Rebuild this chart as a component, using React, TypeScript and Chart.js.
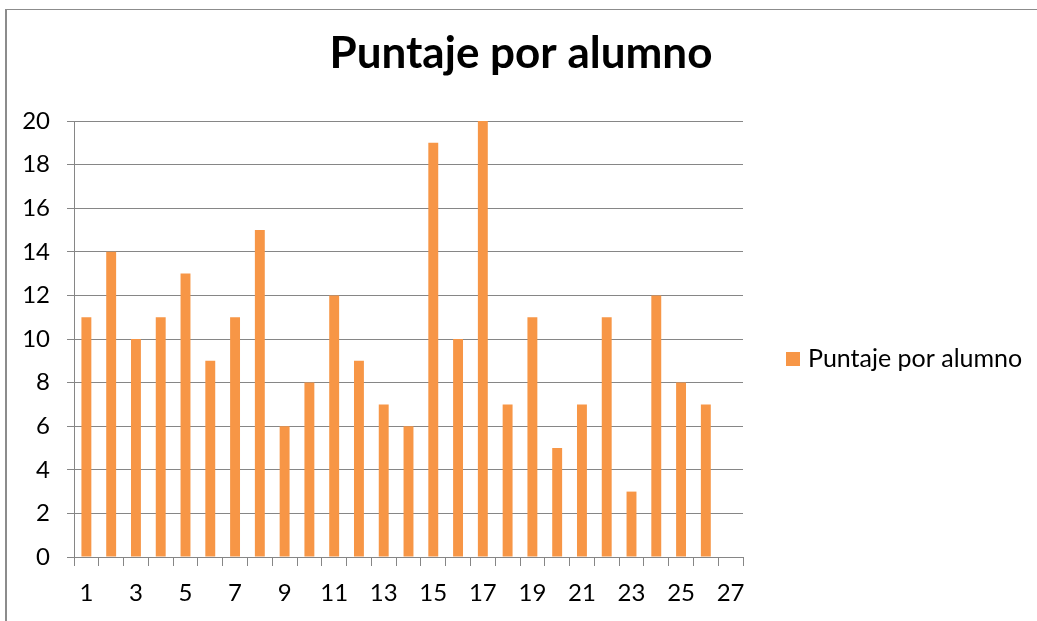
import React, { useEffect, useRef } from "react";
import { Chart, registerables } from "chart.js";

Chart.register(...registerables);

const TITLE = "Puntaje por alumno";
const SERIES_LABEL = "Puntaje por alumno";
const CATEGORIES = Array.from({ length: 27 }, (_, i) => String(i + 1));
const VALUES: (number | null)[] = [
  11, 14, 10, 11, 13, 9, 11, 15, 6, 8, 12, 9, 7, 6, 19, 10, 20, 7, 11, 5, 7, 11, 3, 12, 8, 7, null,
];
const Y_MIN = 0;
const Y_MAX = 20;
const Y_STEP = 2;

const BAR_COLOR = "#F79646";
const GRID_COLOR = "#868686";
const FONT = "Lato, 'Open Sans', sans-serif";

const overlayPlugin = {
  id: "overlay",
  afterDraw(chart: any) {
    const ctx = chart.ctx;
    ctx.save();
    // Title
    ctx.fillStyle = "#000";
    ctx.font = `bold 44px ${FONT}`;
    ctx.textAlign = "center";
    ctx.textBaseline = "alphabetic";
    ctx.fillText(TITLE, 521, 68);
    // Legend
    const ds = chart.data.datasets[0];
    ctx.fillStyle = ds.backgroundColor;
    ctx.fillRect(786, 352, 14, 14);
    ctx.fillStyle = "#000";
    ctx.font = `25px ${FONT}`;
    ctx.textAlign = "left";
    ctx.textBaseline = "middle";
    ctx.fillText(ds.label, 808, 359);
    ctx.restore();
  },
};

export default function App() {
  const ref = useRef<HTMLCanvasElement>(null);
  useEffect(() => {
    if (!ref.current) return;
    const chart = new Chart(ref.current, {
      type: "bar",
      data: {
        labels: CATEGORIES,
        datasets: [
          {
            label: SERIES_LABEL,
            data: VALUES,
            backgroundColor: BAR_COLOR,
            borderWidth: 0,
            barPercentage: 0.4,
            categoryPercentage: 1.0,
          },
        ],
      },
      options: {
        animation: false,
        responsive: false,
        maintainAspectRatio: false,
        layout: { padding: { top: 121, right: 294, bottom: 0, left: 0 } },
        plugins: {
          legend: { display: false },
          title: { display: false },
          tooltip: { enabled: false },
        },
        scales: {
          x: {
            type: "category",
            offset: true,
            grid: {
              offset: true,
              drawOnChartArea: false,
              drawTicks: true,
              tickLength: 9,
              color: GRID_COLOR,
              lineWidth: 1,
            },
            border: { display: true, color: GRID_COLOR, width: 1 },
            ticks: {
              autoSkip: false,
              maxRotation: 0,
              minRotation: 0,
              padding: 13,
              color: "#000",
              font: { family: FONT, size: 24 },
              callback: function (this: any, _v: any, index: number) {
                return index % 2 === 0 ? CATEGORIES[index] : "";
              },
            },
            afterFit(scale: any) {
              scale.height = 64;
            },
          },
          y: {
            min: Y_MIN,
            max: Y_MAX,
            ticks: {
              stepSize: Y_STEP,
              padding: 17,
              color: "#000",
              font: { family: FONT, size: 24 },
            },
            grid: {
              color: GRID_COLOR,
              lineWidth: 1,
              tickLength: 7,
              drawTicks: true,
            },
            border: { display: true, color: GRID_COLOR, width: 1 },
            afterFit(scale: any) {
              scale.width = 74;
            },
          },
        },
      },
      plugins: [overlayPlugin],
    });
    return () => chart.destroy();
  }, []);

  return (
    <div style={{ position: "fixed", left: 0, top: 0, width: 1037, height: 621, background: "#fff", overflow: "hidden" }}>
      <div
        style={{
          position: "absolute",
          left: 5,
          top: 9,
          width: 1200,
          height: 800,
          borderLeft: "2px solid #8c8c8c",
          borderTop: "1px solid #8c8c8c",
        }}
      />
      <canvas ref={ref} width={1037} height={621} style={{ position: "absolute", left: 0, top: 0, display: "block" }} />
    </div>
  );
}
